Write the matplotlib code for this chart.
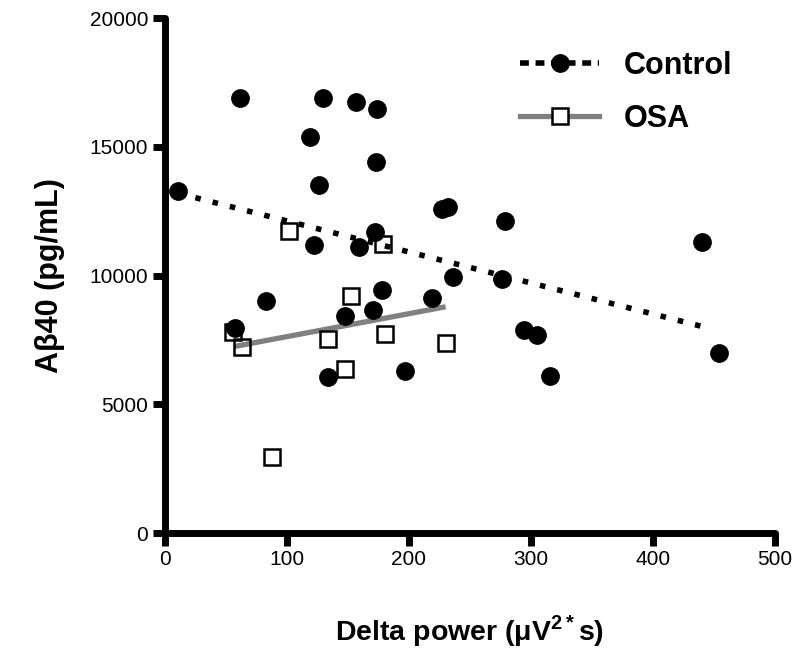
import matplotlib
matplotlib.use('Agg')
import matplotlib.pyplot as plt

plt.rcParams['font.family'] = ['Liberation Sans', 'DejaVu Sans']
plt.rcParams['mathtext.fontset'] = 'custom'
plt.rcParams['mathtext.rm'] = 'Liberation Sans'
plt.rcParams['mathtext.bf'] = 'Liberation Sans:bold'

# Control group (filled circles)
ctrl_x = [10.9, 61.9, 129.8, 156.6, 173.5, 118.9, 172.7, 126.5, 226.8, 232.2,
          172.0, 122.4, 159.0, 235.8, 177.6, 218.6, 83.3, 147.5, 170.8, 57.4,
          133.4, 196.7, 278.7, 440.4, 276.5, 294.5, 304.7, 454.0, 315.6]
ctrl_y = [13290, 16890, 16890, 16730, 16470, 15380, 14400, 13520, 12580, 12670,
          11690, 11190, 11120, 9940, 9440, 9120, 9020, 8440, 8660, 7950,
          6070, 6300, 12120, 11310, 9850, 7870, 7680, 6980, 6100]

# OSA group (open squares)
osa_x = [56.0, 62.9, 133.9, 152.5, 180.3, 147.5, 230.0, 87.5, 101.9, 179.0]
osa_y = [7820, 7210, 7520, 9220, 7730, 6360, 7390, 2940, 11730, 11210]

# regression lines (end points)
ctrl_fit_x = [10.9, 443]
ctrl_fit_y = [13200, 7990]
osa_fit_x = [57.4, 230.0]
osa_fit_y = [7250, 8790]

fig = plt.figure(figsize=(8, 6.52), dpi=100)
ax = fig.add_axes([0.206, 0.1825, 0.763, 0.7895])

ax.plot(ctrl_fit_x, ctrl_fit_y, color='k', lw=4, ls=(0, (1, 2.2)),
        dash_capstyle='butt', zorder=2)
ax.plot(osa_fit_x, osa_fit_y, color='#808080', lw=3.8, solid_capstyle='butt',
        zorder=2)
ax.plot(ctrl_x, ctrl_y, 'o', color='k', ms=12.5, zorder=3)
ax.plot(osa_x, osa_y, 's', mfc='none', mec='k', mew=1.8, ms=12, zorder=3)

# legend handles
h1, = ax.plot([], [], color='k', lw=4, ls=(0, (1.6, 1.2)), marker='o', ms=12.5)
h2, = ax.plot([], [], color='#808080', lw=3.8, marker='s', mfc='white',
              mec='k', mew=1.8, ms=12)
leg = ax.legend([h1, h2], ['Control', 'OSA'], loc='upper right',
                bbox_to_anchor=(0.975, 0.99), frameon=False,
                prop={'weight': 'bold', 'size': 22}, handlelength=2.6,
                handletextpad=0.8, labelspacing=0.75)

ax.set_xlim(0, 500)
ax.set_ylim(0, 20000)
ax.set_xticks([0, 100, 200, 300, 400, 500])
ax.set_yticks([0, 5000, 10000, 15000, 20000])

for s in ['top', 'right']:
    ax.spines[s].set_visible(False)
for s in ['left', 'bottom']:
    ax.spines[s].set_linewidth(5)
    ax.spines[s].set_capstyle('round')
ax.tick_params(width=5, length=9, labelsize=15, pad=3)

ax.set_ylabel('Aβ40 (pg/mL)', fontsize=22, fontweight='bold', labelpad=18)
ax.set_xlabel(r'Delta power (μV$^{\mathbf{2*}}$s)', fontsize=20.5,
              fontweight='bold', labelpad=32)

fig.savefig('out.png', dpi=100)
